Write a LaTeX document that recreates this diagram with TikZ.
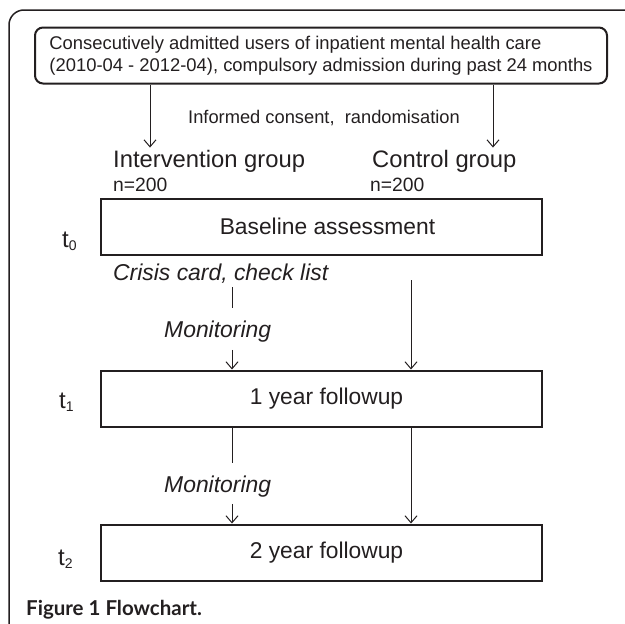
\documentclass[tikz,border=0pt]{standalone}
\usepackage{fontspec}
\setmainfont{Liberation Sans}
\newfontfamily\capfont{Lato}
\usepackage[]{xcolor}
\usetikzlibrary{positioning,arrows.meta}
\definecolor{ink}{HTML}{231F20}

\begin{document}
\begin{tikzpicture}[
            x=1pt, y=-1pt,
            every node/.style={text=ink},
            intake/.style={rectangle, draw=ink, line width=2pt, rounded corners=8pt, minimum width=572pt, inner xsep=12pt, minimum height=56pt, align=left, font=\fontsize{18.4}{22.5}\selectfont},
            stage/.style={rectangle, draw=ink, line width=2pt, minimum width=441pt, minimum height=56pt, font=\fontsize{22.8}{27}\selectfont},
            smalltxt/.style={anchor=base west, inner sep=0pt, font=\fontsize{18.3}{22}\selectfont},
            bigtxt/.style={anchor=base west, inner sep=0pt, font=\fontsize{23.8}{28}\selectfont},
            note/.style={anchor=base west, inner sep=0pt, font=\fontsize{22.9}{27}\selectfont\itshape},
            tmark/.style={anchor=base west, inner sep=0pt, font=\fontsize{24}{28}\selectfont},
            link/.style={draw=ink, line width=1pt},
            arrow/.style={-{Straight Barb[length=7pt,width=12pt]}, draw=ink, line width=1pt}
        ]
            \useasboundingbox (0,0) rectangle (625,624);
            \draw[draw=ink, line width=1.5pt, rounded corners=15pt] (9,624) -- (9,10) -- (625,10);

            \node[intake] (pop) at (321,55.5) {Consecutively admitted users of inpatient mental health care\\(2010-04 - 2012-04), compulsory admission during past 24 months};
            \node[smalltxt] (consent) at (188,123) {Informed consent,\ \ randomisation};
            \node[bigtxt] (igroup) at (113,167) {Intervention group};
            \node[bigtxt] (cgroup) at (372,167) {Control group};
            \node[smalltxt, font=\fontsize{19.3}{22}\selectfont] (in) at (113,191) {n=200};
            \node[smalltxt, font=\fontsize{19.3}{22}\selectfont] (cn) at (370,191) {n=200};

            \node[stage] (base) at (321.5,226.5) {\hspace*{12pt}Baseline assessment};
            \node[stage, below=114pt of base] (fu1) {\hspace*{10pt}1 year followup};
            \node[stage, below=96pt of fu1] (fu2) {\hspace*{10pt}2 year followup};

            \node[tmark] (t0) at (62,247) {t\raisebox{-3pt}{\fontsize{14}{14}\selectfont 0}};
            \node[tmark] (t1) at (59,408) {t\raisebox{-3pt}{\fontsize{14}{14}\selectfont 1}};
            \node[tmark] (t2) at (58,565) {t\raisebox{-3pt}{\fontsize{14}{14}\selectfont 2}};

            \node[note] (crisis) at (113,280) {Crisis card, check list};
            \node[note] (mon1) at (164,337) {Monitoring};
            \node[note] (mon2) at (164,492) {Monitoring};

            \node[anchor=base west, inner sep=0pt, font=\capfont\bfseries\fontsize{20.5}{24}\selectfont] (caption) at (26,615) {Figure 1 Flowchart.};

            % arrow columns
            \coordinate (ix) at (150,0);
            \coordinate (cx) at (493,0);
            \coordinate (lx) at (232,0);
            \coordinate (rx) at (411,0);

            \draw[arrow] (pop.south -| ix) -- ([yshift=2pt]igroup.north -| ix);
            \draw[arrow] (pop.south -| cx) -- ([yshift=2pt]cgroup.north -| cx);

            \draw[link] ([yshift=-4pt]crisis.south -| lx) -- ([yshift=12pt]mon1.north -| lx);
            \draw[arrow] ([yshift=-8pt]mon1.south -| lx) -- (fu1.north -| lx);
            \draw[arrow] ([yshift=-24.5pt]base.south -| rx) -- (fu1.north -| rx);

            \draw[link] (fu1.south -| lx) -- ([yshift=12.5pt]mon2.north -| lx);
            \draw[arrow] ([yshift=-7pt]mon2.south -| lx) -- (fu2.north -| lx);
            \draw[arrow] (fu1.south -| rx) -- (fu2.north -| rx);
        \end{tikzpicture}
\end{document}
